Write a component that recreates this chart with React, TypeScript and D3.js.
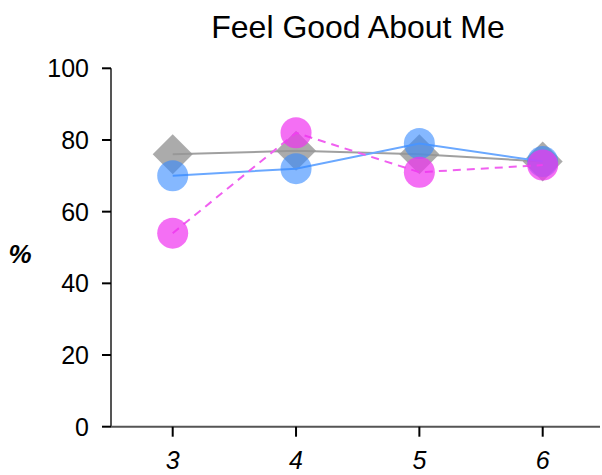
import React from "react";
import * as d3 from "d3";

const categories = [3, 4, 5, 6];
const grayValues = [76, 77, 76, 74];
const blueValues = [70, 72, 79, 74];
const magentaValues = [54, 82, 71, 73];
const yTicks = [0, 20, 40, 60, 80, 100];
const title = "Feel Good About Me";
const yLabel = "%";

const W = 602;
const H = 475;
const FONT = "'Liberation Sans', Arial, Helvetica, sans-serif";

export default function App() {
  const x = d3.scalePoint<number>().domain(categories).range([172.7, 542.7]);
  const y = d3.scaleLinear().domain([0, 100]).range([426.7, 68.3]);
  const axisX = 111;
  const line = d3
    .line<number>()
    .x((_, i) => x(categories[i]) as number)
    .y((d) => y(d));

  const diamond = (cx: number, cy: number, r: number) =>
    `M${cx},${cy - r}L${cx + r},${cy}L${cx},${cy + r}L${cx - r},${cy}Z`;

  return (
    <svg
      width={W}
      height={H}
      style={{ position: "absolute", left: 0, top: 0, background: "#fff" }}
      fontFamily={FONT}
    >
      <text x={358} y={38} fontSize={32} textAnchor="middle" fill="#000">
        {title}
      </text>
      {/* y axis */}
      <line x1={axisX} x2={axisX} y1={y(100)} y2={y(0)} stroke="#555" strokeWidth={2} />
      {yTicks.map((t) => (
        <g key={t}>
          <line x1={axisX - 9} x2={axisX} y1={y(t)} y2={y(t)} stroke="#000" strokeWidth={2} />
          <text x={89} y={y(t) + 9} fontSize={25} textAnchor="end" fill="#000">
            {t}
          </text>
        </g>
      ))}
      {/* x axis */}
      <line x1={axisX} x2={600} y1={y(0)} y2={y(0)} stroke="#555" strokeWidth={2} />
      {categories.map((c) => (
        <g key={c}>
          <line
            x1={x(c)}
            x2={x(c)}
            y1={y(0)}
            y2={y(0) + 10}
            stroke="#000"
            strokeWidth={2}
          />
          <text
            x={x(c) as number}
            y={469}
            fontSize={25}
            textAnchor="middle"
            fontStyle="italic"
            fill="#000"
          >
            {c}
          </text>
        </g>
      ))}
      <text x={20} y={263} fontSize={26} fontWeight="bold" fontStyle="italic" textAnchor="middle" fill="#000">
        {yLabel}
      </text>

      {/* gray series */}
      <path d={line(grayValues) || ""} fill="none" stroke="#a0a0a0" strokeWidth={2} />
      {grayValues.map((v, i) => (
        <path
          key={"g" + i}
          d={diamond(x(categories[i]) as number, y(v), 20)}
          fill="rgb(150,150,150)"
          fillOpacity={0.8}
        />
      ))}
      {/* blue series */}
      <path d={line(blueValues) || ""} fill="none" stroke="#6aa8ff" strokeWidth={2} />
      {blueValues.map((v, i) => (
        <circle
          key={"b" + i}
          cx={x(categories[i]) as number}
          cy={y(v)}
          r={15.5}
          fill="rgb(51,136,255)"
          fillOpacity={0.6}
        />
      ))}
      {/* magenta series */}
      <path
        d={line(magentaValues) || ""}
        fill="none"
        stroke="#f060f0"
        strokeWidth={2}
        strokeDasharray="8,6"
      />
      {magentaValues.map((v, i) => (
        <circle
          key={"m" + i}
          cx={x(categories[i]) as number}
          cy={y(v)}
          r={15.5}
          fill="rgb(240,50,240)"
          fillOpacity={0.7}
        />
      ))}
    </svg>
  );
}
